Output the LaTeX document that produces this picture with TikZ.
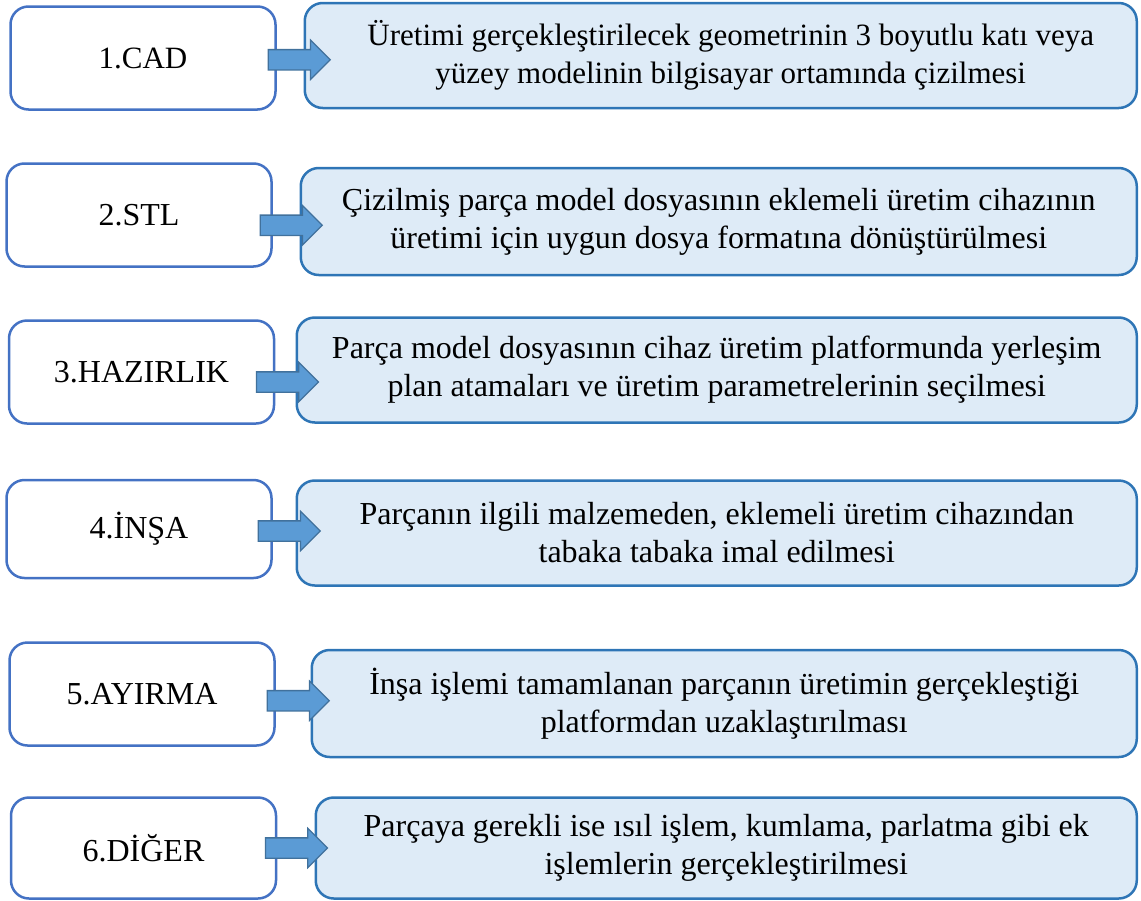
\documentclass[tikz,border=0pt]{standalone}
\usepackage{fontspec}
\setmainfont{Liberation Serif}
\usetikzlibrary{shapes.arrows,calc}
\definecolor{rahmenblau}{HTML}{4472C4}
\definecolor{kastenblau}{HTML}{DEEBF7}
\definecolor{kastenrand}{HTML}{2E75B6}
\definecolor{pfeilblau}{HTML}{5B9BD5}
\definecolor{pfeilrand}{HTML}{41719C}
\tikzset{
	schritt/.style={draw=rahmenblau, fill=white, line width=2.5pt, rounded corners=18pt,
		minimum width=265pt, minimum height=103pt, font=\fontsize{32}{38}\selectfont},
	beschreibung/.style={draw=kastenrand, fill=kastenblau, line width=2.5pt, rounded corners=18pt,
		minimum height=105pt, anchor=east, align=center, font=\fontsize{32}{38}\selectfont},
	pfeil/.style={single arrow, draw=pfeilrand, fill=pfeilblau, line width=1.3pt,
		inner xsep=0pt, inner ysep=9.5pt, minimum height=62pt, single arrow head extend=9.5pt}
}
\begin{document}
\begin{tikzpicture}[x=1pt,y=-1pt]
		\useasboundingbox (0,0) rectangle (1141,900);
		% Schritte
		\node[schritt, font=\fontsize{31}{37}\selectfont] (l1) at (143,58) {1.CAD};
		\node[schritt] (l2) at (139,215) {2.STL};
		\node[schritt] (l3) at (141.5,372) {3.HAZIRLIK};
		\node[schritt, minimum height=98pt] (l4) at (139,529) {4.İNŞA};
		\node[schritt] (l5) at (142,694) {5.AYIRMA};
		\node[schritt, minimum height=101pt] (l6) at (143.5,848) {6.DİĞER};
		% Beschreibungen
		\node[beschreibung, minimum width=832pt, font=\fontsize{31}{38}\selectfont] (r1) at (1138,55.5)
			{\hspace*{20pt}Üretimi gerçekleştirilecek geometrinin 3 boyutlu katı veya\\\hspace*{20pt}yüzey modelinin bilgisayar ortamında çizilmesi};
		\node[beschreibung, minimum width=836pt, minimum height=107pt] (r2) at (1138,221.5)
			{Çizilmiş parça model dosyasının eklemeli üretim cihazının\\üretimi için uygun dosya formatına dönüştürülmesi};
		\node[beschreibung, minimum width=840pt] (r3) at (1138,370)
			{Parça model dosyasının cihaz üretim platformunda yerleşim\\plan atamaları ve üretim parametrelerinin seçilmesi};
		\node[beschreibung, minimum width=840pt] (r4) at (1138,533)
			{Parçanın ilgili malzemeden, eklemeli üretim cihazından\\tabaka tabaka imal edilmesi};
		\node[beschreibung, minimum width=825pt, minimum height=107pt] (r5) at (1138,703.5)
			{İnşa işlemi tamamlanan parçanın üretimin gerçekleştiği\\platformdan uzaklaştırılması};
		\node[beschreibung, minimum width=821pt, minimum height=101pt] (r6) at (1138,848)
			{Parçaya gerekli ise ısıl işlem, kumlama, parlatma gibi ek\\işlemlerin gerçekleştirilmesi};
		% Pfeile
		\node[pfeil, xshift=4pt, yshift=-3pt] (p1) at ($(l1.east)!.5!(r1.west)$) {};
		\node[pfeil, yshift=-7pt] (p2) at ($(l2.east)!.5!(r2.west)$) {};
		\node[pfeil, xshift=-3pt, yshift=-11pt] (p3) at ($(l3.east)!.5!(r3.west)$) {};
		\node[pfeil] (p4) at ($(l4.east)!.5!(r4.west)$) {};
		\node[pfeil, yshift=-2pt] (p5) at ($(l5.east)!.5!(r5.west)$) {};
		\node[pfeil, xshift=-4.5pt] (p6) at ($(l6.east)!.5!(r6.west)$) {};
	\end{tikzpicture}
\end{document}
